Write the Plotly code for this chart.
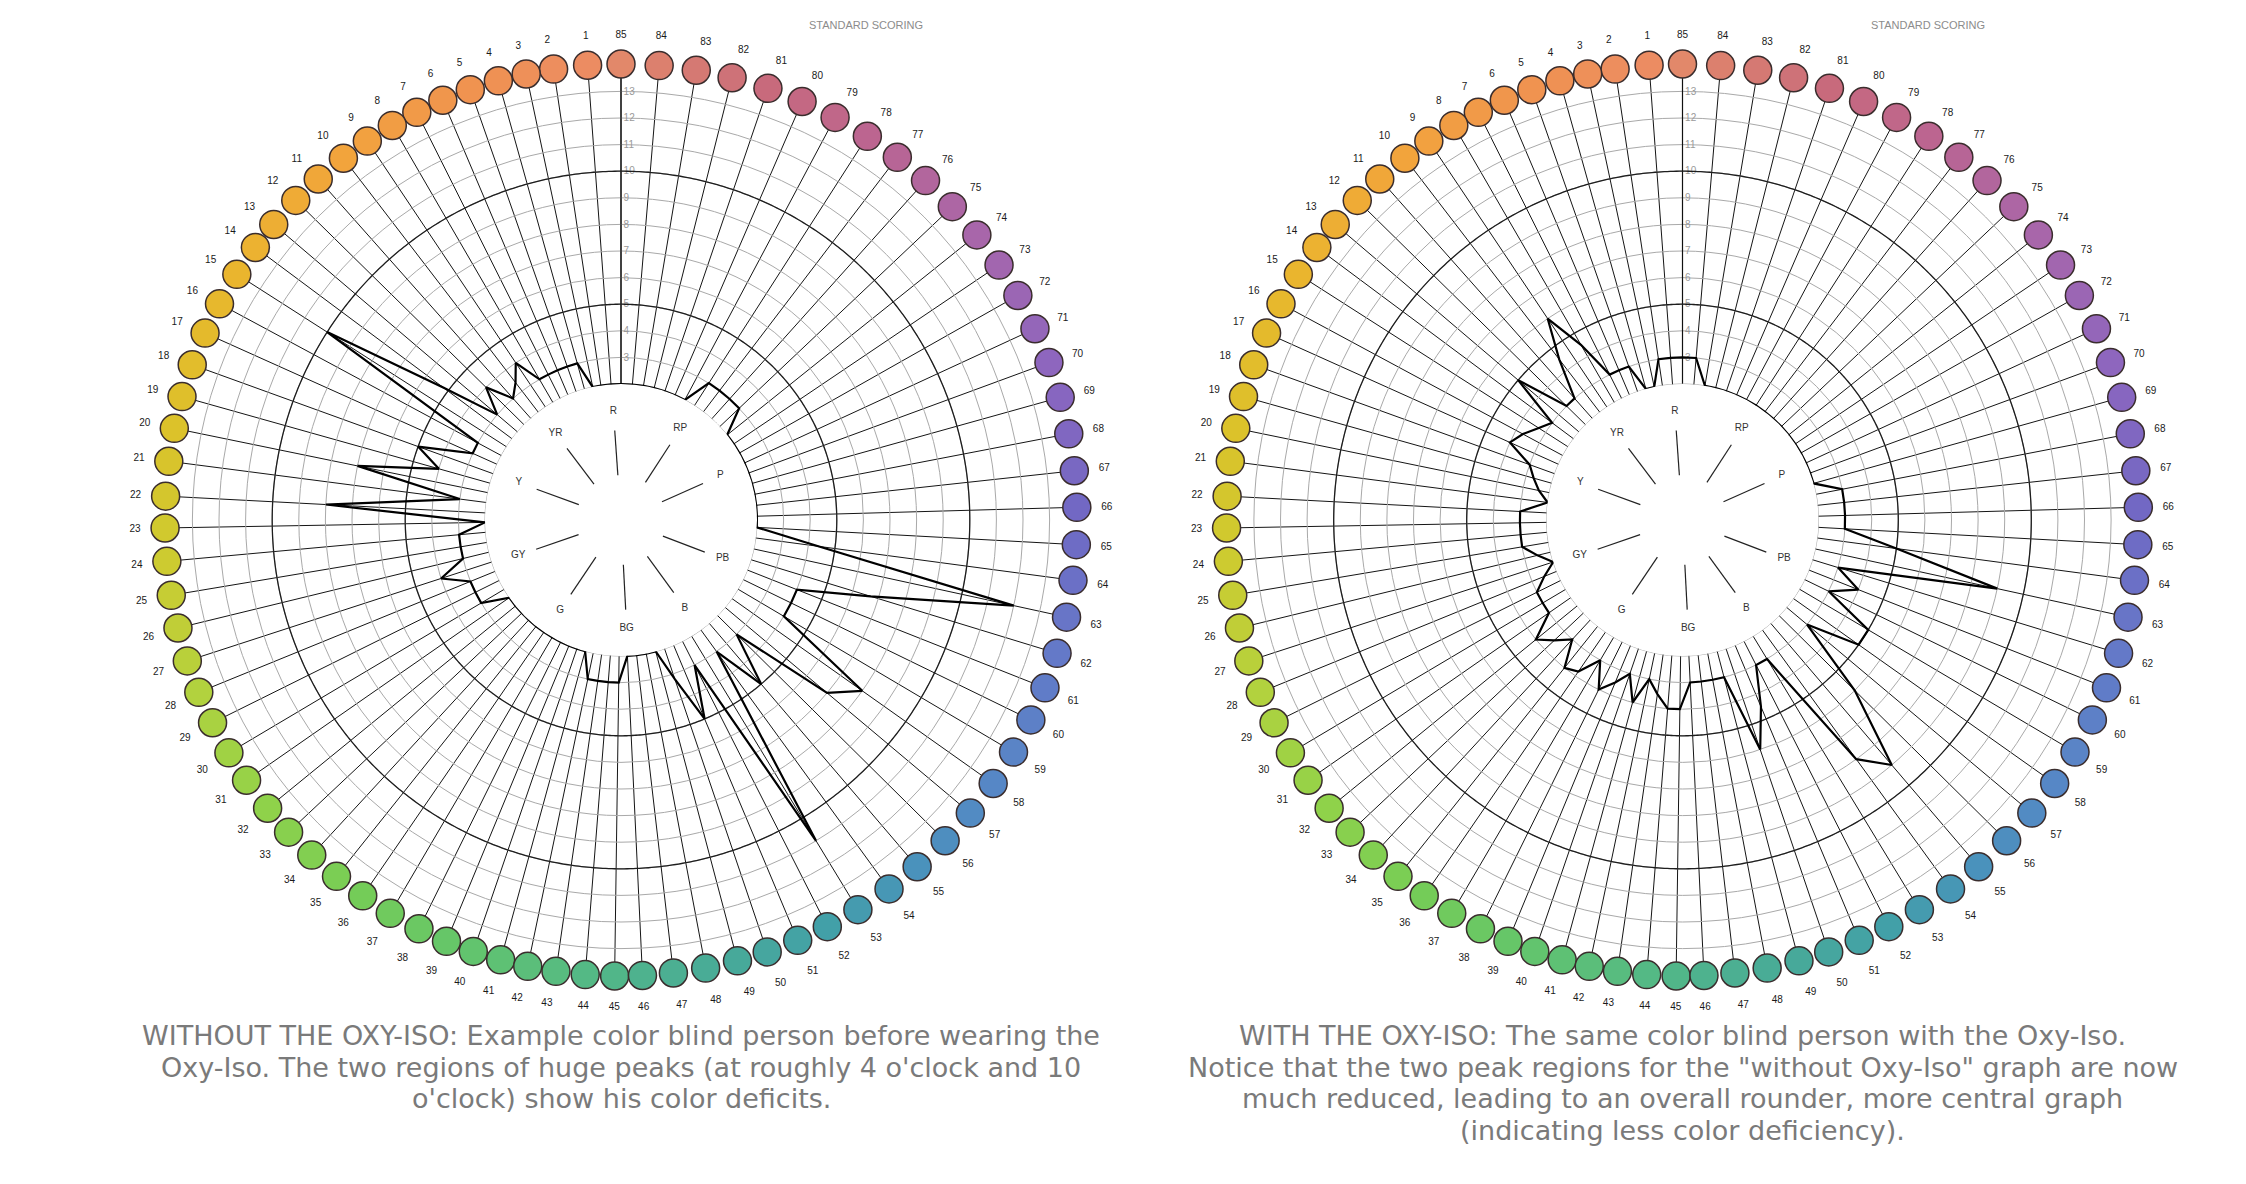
import numpy as np
import plotly.graph_objects as go

# ---------------- data ----------------
cap_numbers = list(range(1, 86))
# angle of each cap on the chart (degrees, counter-clockwise from the top), caps 1..85
cap_angle_deg = [4.2, 8.5, 12.0, 15.6, 19.3, 23.0, 26.6, 30.1, 33.8, 37.5,
                 41.6, 45.5, 49.6, 53.3, 57.4, 61.7, 65.8, 70.1, 74.3, 78.4,
                 82.6, 87.0, 91.0, 95.2, 99.5, 103.7, 108.0, 112.2, 116.4, 120.7,
                 124.8, 129.2, 133.2, 137.3, 141.4, 145.5, 149.6, 153.7, 157.5, 161.1,
                 164.7, 168.2, 171.8, 175.5, 179.2, 182.7, 186.6, 190.7, 194.8, 198.7,
                 202.8, 206.9, 211.3, 216.0, 220.5, 225.3, 230.0, 234.7, 239.4, 244.0,
                 248.4, 253.0, 257.7, 262.4, 266.9, 271.6, 276.2, 280.9, 285.6, 290.2,
                 294.8, 299.5, 304.0, 308.7, 313.4, 318.1, 322.7, 327.3, 332.0, 336.6,
                 341.2, 345.9, 350.5, 355.2, 0.0]

# cap error scores, caps 1..85
scores_without = [2, 2, 2, 3, 3, 3, 3, 3, 4, 3.4,
                  3, 4, 3, 5.2, 10, 3, 3, 5, 4, 7,
                  3, 8, 2, 3, 3, 3, 4, 3, 3, 3,
                  2, 2, 2, 2, 2, 2, 2, 2, 2, 2,
                  2, 3, 3, 3, 3, 2, 2, 2, 2, 3.2,
                  5, 3, 11, 3, 5, 3, 7, 8, 4, 4,
                  4, 6.7, 12, 4.4, 2, 2, 2, 2, 2, 2,
                  2, 2, 2, 2, 3, 3, 3, 3, 2, 2,
                  2, 2, 2, 2, 2]

scores_with = [3, 3, 2, 2, 3, 3, 3, 4.5, 6, 4.5,
               3, 3, 5, 3, 3.3, 3.7, 4, 3, 2.7, 2.4,
               2, 3, 3, 3, 3, 2.5, 2, 2.5, 3, 3,
               3, 4, 3.5, 3, 4, 3.8, 3, 4, 3.5, 3,
               4, 3, 3.5, 4, 4, 3, 3, 3, 3, 6,
               4.5, 3, 3, 8, 9, 6, 3, 5, 5, 3,
               4, 3, 9, 5, 3, 3, 3, 3, 2, 2,
               2, 2, 2, 2, 2, 2, 2, 2, 2, 2,
               2, 2, 2, 3, 3]

hue_names = ["R", "YR", "Y", "GY", "G", "BG", "B", "PB", "P", "RP"]
hue_angle_deg = [4, 37, 70, 109, 146, 183, 216, 249, 294, 327]

radial_ticks = list(range(3, 14))

caption_lines = [
    ["WITHOUT THE OXY-ISO: Example color blind person before wearing the",
     "Oxy-Iso. The two regions of huge peaks (at roughly 4 o'clock and 10",
     "o'clock) show his color deficits."],
    ["WITH THE OXY-ISO: The same color blind person with the Oxy-Iso.",
     "Notice that the two peak regions for the \"without Oxy-Iso\" graph are now",
     "much reduced, leading to an overall rounder, more central graph",
     "(indicating less color deficiency)."],
]
header_text = "STANDARD SCORING"

# ---------------- style ----------------
W, H = 2246, 1184
centers = [(621.0, 520.0), (1682.5, 520.0)]
R_OUT = 456.0
R_HOLE = 136.0
R_MIN, R_MAX = 2.0, 14.03
CAPTION_Y0, CAPTION_DY = 1035.5, 31.6

color_anchors = [(1, "#EC8C62"), (5, "#F09350"), (10, "#F2A43C"), (15, "#EAB52E"),
                 (20, "#DCC22A"), (24, "#CDCB30"), (28, "#B2D23E"), (32, "#8FD24A"),
                 (36, "#74CC58"), (40, "#62C46E"), (44, "#54B985"), (48, "#49AC96"),
                 (52, "#42A0A8"), (55, "#4A92BC"), (58, "#5687C6"), (62, "#6479C8"),
                 (66, "#7268C4"), (70, "#8E66BE"), (74, "#A866AA"), (78, "#BC6590"),
                 (81, "#C86A7C"), (85, "#E2886A")]


def hex2rgb(h):
    return np.array([int(h[i:i + 2], 16) for i in (1, 3, 5)], dtype=float)


def cap_color(n):
    xs = [a for a, _ in color_anchors]
    cols = np.array([hex2rgb(c) for _, c in color_anchors])
    rgb = [np.interp(n, xs, cols[:, k]) for k in range(3)]
    return "rgb(%d,%d,%d)" % tuple(int(round(v)) for v in rgb)


cap_colors = [cap_color(n) for n in cap_numbers]

fig = go.Figure()

series = [scores_without, scores_with]
for i, (cx, cy) in enumerate(centers):
    main = "polar" if i == 0 else "polar%d" % (i + 1)
    inner = "polar%d" % (i + 3)

    ring_theta = np.linspace(0, 360, 721)
    # grey ring at the minimum score (hole edge)
    fig.add_trace(go.Scatterpolar(
        r=[R_MIN] * len(ring_theta), theta=ring_theta, mode="lines",
        line=dict(color="#a9a9a9", width=1), hoverinfo="skip",
        showlegend=False, subplot=main, cliponaxis=False))
    for rv in (5, 10):
        fig.add_trace(go.Scatterpolar(
            r=[rv] * len(ring_theta), theta=ring_theta, mode="lines",
            line=dict(color="#1e1e1e", width=1.3), hoverinfo="skip",
            showlegend=False, subplot=main))

    vals = series[i]
    fig.add_trace(go.Scatterpolar(
        r=vals + vals[:1], theta=cap_angle_deg + cap_angle_deg[:1], mode="lines",
        line=dict(color="#000000", width=2.2), showlegend=False, subplot=main,
        cliponaxis=False))

    fig.add_trace(go.Scatterpolar(
        r=[R_MAX] * len(cap_numbers), theta=cap_angle_deg, mode="markers",
        marker=dict(size=28, color=cap_colors, line=dict(color="#3a2d2d", width=1.5)),
        cliponaxis=False, showlegend=False, subplot=main,
        text=[str(n) for n in cap_numbers], hoverinfo="text"))

    # hue-name pointers inside the hole
    lr, lt = [], []
    for a in hue_angle_deg:
        lr += [0.33, 0.66, None]
        lt += [a, a, None]
    fig.add_trace(go.Scatterpolar(
        r=lr, theta=lt, mode="lines", line=dict(color="#222222", width=1.2),
        hoverinfo="skip", showlegend=False, subplot=inner))
    fig.add_trace(go.Scatterpolar(
        r=[0.8] * len(hue_names), theta=hue_angle_deg, mode="text", text=hue_names,
        textfont=dict(family="Liberation Sans", size=10, color="#333333"),
        hoverinfo="skip", showlegend=False, subplot=inner))

    dx0, dx1 = (cx - R_OUT) / W, (cx + R_OUT) / W
    yb = H - cy
    dy0, dy1 = (yb - R_OUT) / H, (yb + R_OUT) / H
    fig.update_layout(**{main: dict(
        domain=dict(x=[dx0, dx1], y=[dy0, dy1]),
        hole=R_HOLE / R_OUT,
        bgcolor="white",
        radialaxis=dict(range=[R_MIN, R_MAX], tickmode="array", tickvals=radial_ticks,
                        ticktext=[str(t) for t in radial_ticks], angle=90, tickangle=90,
                        side="clockwise", ticks="", showline=True, linecolor="#111111",
                        linewidth=1.2, gridcolor="#a9a9a9", gridwidth=1,
                        tickfont=dict(family="Liberation Sans", size=10, color="#9a9a9a"),
                        layer="below traces"),
        angularaxis=dict(rotation=90, direction="counterclockwise", thetaunit="degrees",
                         tickmode="array", tickvals=cap_angle_deg,
                         ticktext=[str(n) for n in cap_numbers],
                         ticks="outside", ticklen=22, tickcolor="rgba(0,0,0,0)",
                         showline=False, gridcolor="#151515", gridwidth=1,
                         tickfont=dict(family="Liberation Sans", size=10, color="#1a1a1a"),
                         layer="below traces"),
    )})

    ix0, ix1 = (cx - R_HOLE) / W, (cx + R_HOLE) / W
    iy0, iy1 = (yb - R_HOLE) / H, (yb + R_HOLE) / H
    fig.update_layout(**{inner: dict(
        domain=dict(x=[ix0, ix1], y=[iy0, iy1]),
        bgcolor="rgba(0,0,0,0)",
        radialaxis=dict(visible=False, range=[0, 1]),
        angularaxis=dict(visible=False, rotation=90, direction="counterclockwise"),
    )})

    fig.add_annotation(x=(cx + 245) / W, y=1 - 25 / H, xref="paper", yref="paper",
                       text=header_text, showarrow=False, xanchor="center", yanchor="middle",
                       font=dict(family="Liberation Sans", size=11, color="#8c8c8c"))
    for k, line in enumerate(caption_lines[i]):
        fig.add_annotation(x=cx / W, y=1 - (CAPTION_Y0 + k * CAPTION_DY) / H,
                           xref="paper", yref="paper", text=line, showarrow=False,
                           xanchor="center", yanchor="middle", borderpad=0,
                           font=dict(family="DejaVu Sans", size=27, color="#7a7a7a"))

fig.update_layout(width=W, height=H, margin=dict(l=0, r=0, t=0, b=0),
                  paper_bgcolor="white", plot_bgcolor="white", showlegend=False)

fig.write_html("out.html", config={"displayModeBar": False},
               post_script="document.body.style.margin='0';document.body.style.overflow='hidden';")
